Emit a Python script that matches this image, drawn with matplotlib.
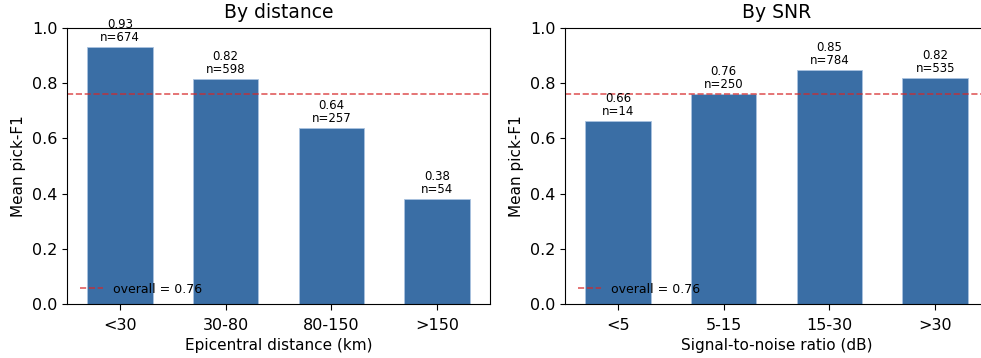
import matplotlib
matplotlib.use("Agg")
import matplotlib.pyplot as plt
import numpy as np

dist_labels = ["<30", "30-80", "80-150", ">150"]
dist_f1 = [0.931, 0.816, 0.637, 0.382]
dist_n = [674, 598, 257, 54]

snr_labels = ["<5", "5-15", "15-30", ">30"]
snr_f1 = [0.664, 0.761, 0.848, 0.819]
snr_n = [14, 250, 784, 535]

overall = 0.762

bar_color = "#3a6ea5"

fig = plt.figure(figsize=(9.81, 3.58), dpi=100)
ax1 = fig.add_axes([67 / 981, 54 / 358, 423 / 981, 276 / 358])
ax2 = fig.add_axes([565 / 981, 54 / 358, 423 / 981, 276 / 358])


def draw(ax, labels, vals, ns, title, xlabel):
    x = np.arange(len(labels))
    bars = ax.bar(x, vals, width=0.62, color=bar_color, edgecolor="#aac3e0", linewidth=0.6)
    for b, v, n in zip(bars, vals, ns):
        ax.annotate(f"{v:.2f}\nn={n}", (b.get_x() + b.get_width() / 2, v),
                    xytext=(0, 2), textcoords="offset points",
                    ha="center", va="bottom", fontsize=8.5, linespacing=1.0)
    ax.axhline(overall, color="#d62728", ls="--", lw=1.2, alpha=0.75,
               label=f"overall = {overall:.2f}")
    ax.set_xticks(x)
    ax.set_xticklabels(labels, fontsize=11.5)
    ax.set_xlim(-0.5, 3.5)
    ax.set_ylim(0, 1.0)
    ax.tick_params(axis="x", length=4.5, pad=5.5)
    ax.tick_params(axis="y", labelsize=11.5)
    ax.set_ylabel("Mean pick-F1", fontsize=11)
    ax.set_xlabel(xlabel, fontsize=11)
    ax.set_title(title, fontsize=13.5, pad=7)
    ax.legend(loc="lower left", bbox_to_anchor=(0.005, -0.01), frameon=False,
              fontsize=9, handlelength=1.8)


draw(ax1, dist_labels, dist_f1, dist_n, "By distance", "Epicentral distance (km)")
draw(ax2, snr_labels, snr_f1, snr_n, "By SNR", "Signal-to-noise ratio (dB)")

fig.savefig("out.png", dpi=100)
